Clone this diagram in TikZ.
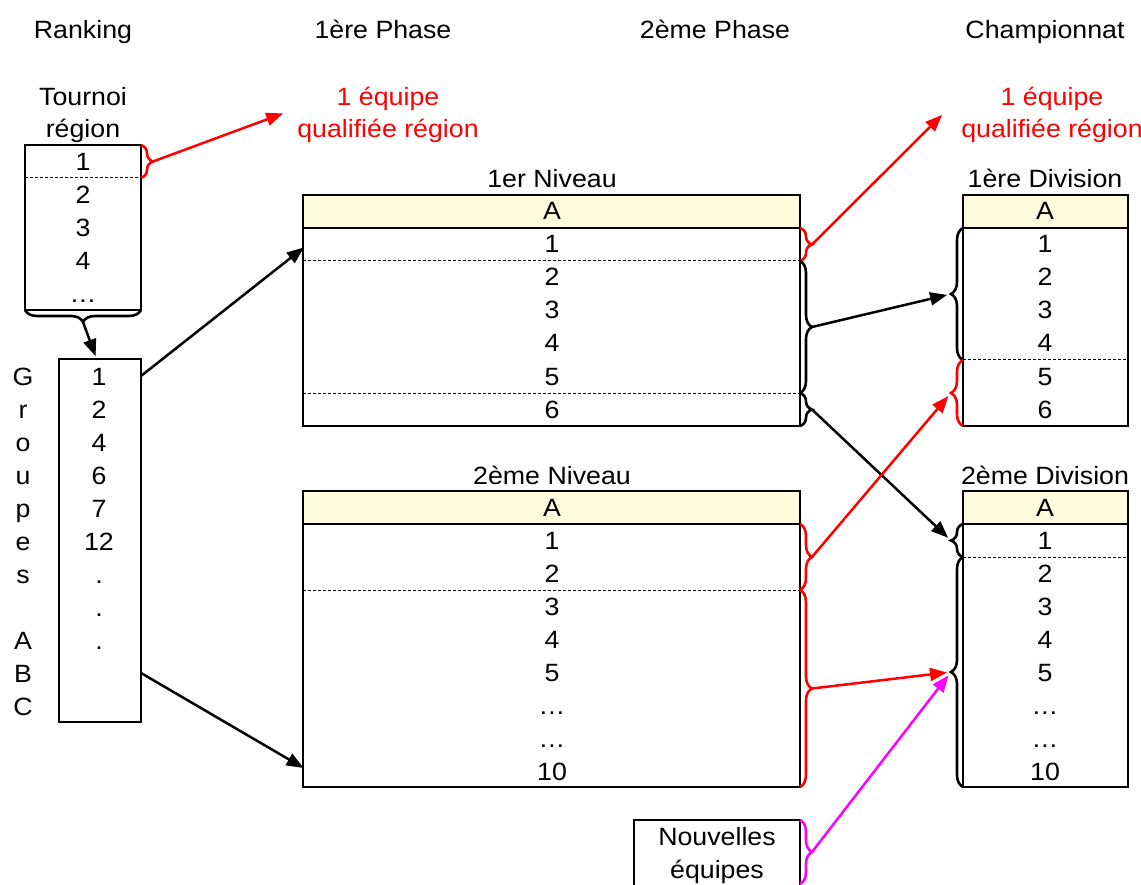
\documentclass[tikz,border=0pt]{standalone}
\usepackage{fontspec}
\setmainfont[FakeStretch=1.07]{Liberation Sans}
\usetikzlibrary{arrows.meta,decorations.pathreplacing}
\definecolor{headyellow}{RGB}{255,252,222}
\definecolor{newpink}{RGB}{255,0,255}
\definecolor{qualred}{RGB}{255,0,0}
\tikzset{
  txt/.style={anchor=base,inner sep=0pt,font=\fontsize{25}{30}\selectfont},
  redtxt/.style={txt,text=qualred},
  tab/.style={line width=1.3pt},
  sep/.style={line width=1pt,dash pattern=on 3pt off 2pt},
  brc/.style={decorate,decoration={brace,amplitude=12pt},line width=2.6pt},
  link/.style={->,line width=2.5pt,shorten >=4pt},
}
\begin{document}
\begin{tikzpicture}[x=1pt,y=-1pt,>={Triangle[length=17pt,width=13pt]}]
  \useasboundingbox (0,0) rectangle (1141,885);
  \clip (0,0) rectangle (1141,885);
  % column titles
  \node[txt] (tRank) at (83,39) {Ranking};
  \node[txt] (tPh1) at (383,39) {1ère Phase};
  \node[txt] (tPh2) at (715,39) {2ème Phase};
  \node[txt] (tChamp) at (1045,39) {Championnat};
  % ranking: tournoi region
  \node[txt] (tTour) at (83,106) {Tournoi};
  \node[txt] (tReg) at (83,138) {région};
  \draw[tab] (25,145) rectangle (141,310);
  \draw[sep] (25,178) -- (141,178);
  \foreach \t [count=\i] in {1,2,3,4,…}
    \node[txt] (r-\i) at (83,{138+33*\i}) {\t};
  \node[redtxt] (qA1) at (388,106) {1 équipe};
  \node[redtxt] (qA2) at (388,138) {qualifiée région};
  \coordinate (qA) at (287,112);
  % groupes ABC
  \draw[tab] (59,359) rectangle (141,722);
  \foreach \t [count=\i] in {1,2,4,6,7,12,.,.,.}
    \node[txt] (g-\i) at (99,{352+33*\i}) {\t};
  \foreach \l/\k in {G/0,r/1,o/2,u/3,p/4,e/5,s/6,A/8,B/9,C/10}
    \node[txt] (gl-\k) at (23,{385+33*\k}) {\l};
  \coordinate (gTop) at (97,360);
  \coordinate (gA) at (141,376);
  \coordinate (gB) at (141,673);
  % 1er niveau
  \node[txt] (tN1) at (552,188) {1er Niveau};
  \fill[headyellow] (303,195) rectangle (800,228);
  \draw[tab] (303,195) rectangle (800,426);
  \draw[tab] (303,228) -- (800,228);
  \draw[sep] (303,261) -- (800,261);
  \draw[sep] (303,393) -- (800,393);
  \node[txt] (n1-A) at (552,220) {A};
  \foreach \t [count=\i] in {1,...,6}
    \node[txt] (n1-\i) at (552,{220+33*\i}) {\t};
  \coordinate (n1in) at (307,245);
  % 2eme niveau
  \node[txt] (tN2) at (552,484) {2ème Niveau};
  \fill[headyellow] (303,491) rectangle (800,524);
  \draw[tab] (303,491) rectangle (800,787);
  \draw[tab] (303,524) -- (800,524);
  \draw[sep] (303,590) -- (800,590);
  \node[txt] (n2-A) at (552,516) {A};
  \foreach \t [count=\i] in {1,2,3,4,5,…,…,10}
    \node[txt] (n2-\i) at (552,{516+33*\i}) {\t};
  \coordinate (n2in) at (307,770);
  % nouvelles equipes
  \draw[tab] (634,820) rectangle (800,900);
  \node[txt] (nouv1) at (717,845) {Nouvelles};
  \node[txt] (nouv2) at (717,878) {équipes};
  % 1ere division
  \node[txt] (tD1) at (1045,188) {1ère Division};
  \fill[headyellow] (963,195) rectangle (1128,228);
  \draw[tab] (963,195) rectangle (1128,426);
  \draw[tab] (963,228) -- (1128,228);
  \draw[sep] (963,360) -- (1128,360);
  \node[txt] (d1-A) at (1045,220) {A};
  \foreach \t [count=\i] in {1,...,6}
    \node[txt] (d1-\i) at (1045,{220+33*\i}) {\t};
  \node[redtxt] (qB1) at (1052,106) {1 équipe};
  \node[redtxt] (qB2) at (1052,138) {qualifiée région};
  \coordinate (qB) at (945,112);
  % 2eme division
  \node[txt] (tD2) at (1045,484) {2ème Division};
  \fill[headyellow] (963,491) rectangle (1128,524);
  \draw[tab] (963,491) rectangle (1128,787);
  \draw[tab] (963,524) -- (1128,524);
  \draw[sep] (963,557) -- (1128,557);
  \node[txt] (d2-A) at (1045,516) {A};
  \foreach \t [count=\i] in {1,2,3,4,5,…,…,10}
    \node[txt] (d2-\i) at (1045,{516+33*\i}) {\t};
  % braces
  \draw[brc,qualred] (141,145) -- (141,178);
  \coordinate (bTour) at (153,161.5);
  \draw[brc] (141,310) -- (25,310);
  \coordinate (bRank) at (83,322);
  \draw[brc,qualred] (800,228) -- (800,261);
  \coordinate (bN1a) at (812,244.5);
  \draw[brc] (800,261) -- (800,393);
  \coordinate (bN1b) at (812,327);
  \draw[brc] (800,393) -- (800,426);
  \coordinate (bN1c) at (812,409.5);
  \draw[brc,qualred] (800,524) -- (800,590);
  \coordinate (bN2a) at (812,557);
  \draw[brc,qualred] (800,590) -- (800,787);
  \coordinate (bN2b) at (812,688.5);
  \draw[brc,newpink] (800,820) -- (800,884);
  \coordinate (bNouv) at (812,852);
  \draw[brc] (963,360) -- (963,228);
  \coordinate (bD1a) at (951,294);
  \draw[brc,qualred] (963,426) -- (963,360);
  \coordinate (bD1b) at (951,393);
  \draw[brc] (963,557) -- (963,524);
  \coordinate (bD2a) at (951,540.5);
  \draw[brc] (963,787) -- (963,557);
  \coordinate (bD2b) at (951,672);
  % arrows
  \draw[link,qualred] (bTour) -- (qA);
  \draw[link] (bRank) -- (gTop);
  \draw[link] (gA) -- (n1in);
  \draw[link] (gB) -- (n2in);
  \draw[link,qualred] (bN1a) -- (qB);
  \draw[link] (bN1b) -- (bD1a);
  \draw[link] (bN1c) -- (bD2a);
  \draw[link,qualred] (bN2a) -- (bD1b);
  \draw[link,qualred] (bN2b) -- (bD2b);
  \draw[link,newpink] (bNouv) -- (bD2b);
\end{tikzpicture}
\end{document}
